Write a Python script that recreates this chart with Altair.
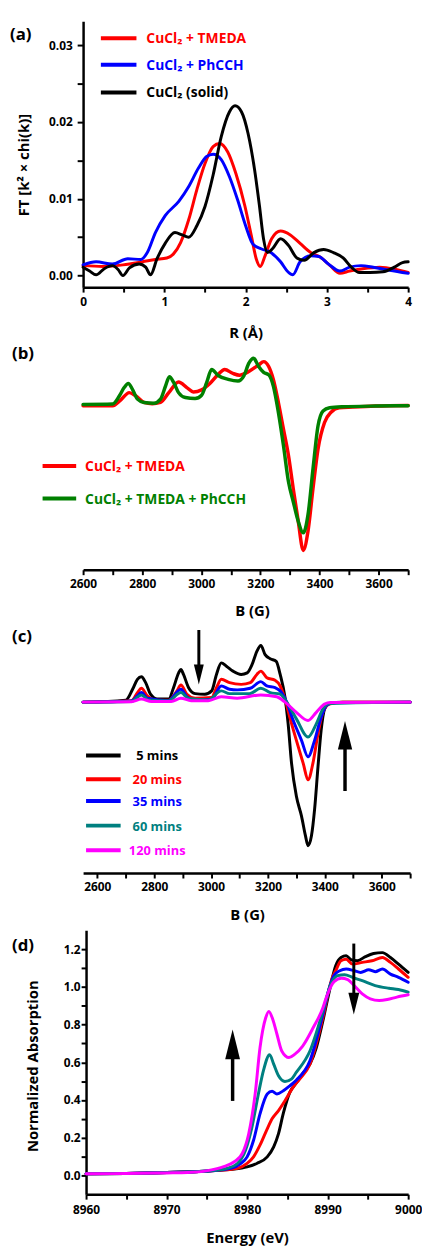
import altair as alt
import pandas as pd

FONT = "Open Sans"
RED = "#ff0000"
BLUE = "#0000ff"
BLACK = "#000000"
GREEN = "#008000"
TEAL = "#008080"
MAGENTA = "#ff00ff"

# ---------------- (a) FT of EXAFS ----------------
a_red_r = [0, 0.24, 0.49, 0.73, 0.89, 1.03, 1.11, 1.2, 1.3, 1.4, 1.5, 1.6, 1.68, 1.78, 1.88, 1.99,
           2.07, 2.13, 2.18, 2.24, 2.32, 2.43, 2.55, 2.67, 2.8, 2.92, 3.04, 3.16, 3.28, 3.44, 3.65, 3.85, 4.0]
a_red_v = [0.0013, 0.0012, 0.0014, 0.0018, 0.0021, 0.0023, 0.0028, 0.0043, 0.0073, 0.0112, 0.0146,
           0.0168, 0.0172, 0.0161, 0.0133, 0.0091, 0.0052, 0.0022, 0.0012, 0.0026, 0.0048, 0.0058,
           0.0053, 0.0042, 0.0030, 0.0024, 0.0013, 0.0003, 0.0006, 0.0009, 0.0011, 0.0008, 0.0004]
a_blue_r = [0, 0.16, 0.36, 0.55, 0.71, 0.79, 0.89, 1.01, 1.18, 1.3, 1.42, 1.52, 1.6, 1.7, 1.8, 1.9,
            2.0, 2.09, 2.19, 2.31, 2.43, 2.52, 2.58, 2.67, 2.8, 2.9, 3.02, 3.16, 3.28, 3.42, 3.57, 3.77, 4.0]
a_blue_v = [0.0014, 0.0018, 0.0015, 0.0022, 0.0021, 0.0030, 0.0056, 0.0078, 0.0097, 0.0116, 0.0140,
            0.0155, 0.0158, 0.0151, 0.0129, 0.0099, 0.0065, 0.0041, 0.0035, 0.0030, 0.0018, 0.0005,
            0.0001, 0.0018, 0.0026, 0.0025, 0.0015, 0.0006, 0.0011, 0.0013, 0.0011, 0.0007, 0.0003]
a_black_r = [0, 0.08, 0.16, 0.26, 0.36, 0.43, 0.49, 0.57, 0.69, 0.77, 0.83, 0.91, 1.01, 1.13, 1.22,
             1.3, 1.4, 1.5, 1.6, 1.7, 1.8, 1.87, 1.95, 2.03, 2.11, 2.17, 2.22, 2.27, 2.33, 2.43, 2.53,
             2.63, 2.72, 2.84, 2.96, 3.08, 3.2, 3.3, 3.4, 3.53, 3.69, 3.83, 3.93, 4.0]
a_black_v = [0.0011, 0.0006, 0.0001, 0.0009, 0.0013, 0.0008, 0.0000, 0.0010, 0.0015, 0.0011, 0.0001,
             0.0022, 0.0042, 0.0056, 0.0053, 0.0050, 0.0065, 0.0090, 0.0131, 0.0181, 0.0213, 0.0221,
             0.0213, 0.0185, 0.0138, 0.0091, 0.0048, 0.0030, 0.0035, 0.0048, 0.0039, 0.0023, 0.0020,
             0.0030, 0.0034, 0.0030, 0.0023, 0.0011, 0.0004, 0.0004, 0.0005, 0.0011, 0.0017, 0.0018]

# ---------------- (b) EPR ----------------
b_red_b = [2600, 2700, 2728, 2756, 2778, 2806, 2834, 2862, 2890, 2923, 2951, 2973, 3001, 3029, 3057,
           3079, 3107, 3130, 3157, 3194, 3211, 3228, 3244, 3261, 3278, 3295, 3311, 3328, 3345, 3361,
           3378, 3395, 3417, 3440, 3467, 3512, 3590, 3700]
b_red_v = [-0.007, -0.007, 0.034, 0.084, 0.062, 0.016, 0.007, 0.016, 0.084, 0.158, 0.119, 0.089, 0.103,
           0.148, 0.21, 0.244, 0.217, 0.205, 0.226, 0.276, 0.299, 0.265, 0.174, 0.014, -0.169, -0.352,
           -0.58, -0.808, -1.01, -0.877, -0.58, -0.306, -0.123, -0.05, -0.021, -0.016, -0.009, -0.005]
b_green_b = [2600, 2700, 2723, 2739, 2753, 2767, 2784, 2806, 2840, 2862, 2879, 2892, 2907, 2923, 2946,
             2979, 3001, 3018, 3035, 3057, 3091, 3124, 3144, 3161, 3177, 3194, 3211, 3228, 3244, 3261,
             3278, 3295, 3311, 3328, 3345, 3361, 3378, 3395, 3412, 3434, 3478, 3590, 3700]
b_green_v = [0.002, 0.005, 0.062, 0.119, 0.148, 0.107, 0.039, 0.016, 0.011, 0.039, 0.13, 0.194, 0.153,
             0.084, 0.05, 0.043, 0.066, 0.153, 0.244, 0.203, 0.176, 0.164, 0.2, 0.288, 0.322, 0.265,
             0.224, 0.208, 0.128, -0.055, -0.283, -0.534, -0.671, -0.808, -0.888, -0.763, -0.443,
             -0.146, -0.043, -0.021, -0.014, -0.009, -0.007]

# ---------------- (c) EPR time series ----------------
c_black_b = [2550, 2700, 2724, 2741, 2755, 2770, 2787, 2811, 2851, 2868, 2886, 2894, 2903, 2921, 2944,
             2978, 3002, 3019, 3036, 3054, 3077, 3106, 3127, 3144, 3161, 3175, 3190, 3208, 3229, 3243,
             3260, 3271, 3283, 3300, 3318, 3332, 3341, 3353, 3364, 3376, 3387, 3399, 3416, 3463, 3700]
c_black_v = [0, 0.014, 0.089, 0.158, 0.176, 0.135, 0.055, 0.021, 0.021, 0.1, 0.203, 0.226, 0.192, 0.1,
             0.059, 0.055, 0.078, 0.192, 0.272, 0.249, 0.215, 0.192, 0.203, 0.26, 0.352, 0.393, 0.329,
             0.301, 0.283, 0.192, 0.032, -0.151, -0.425, -0.653, -0.79, -0.927, -0.995, -0.927, -0.744,
             -0.447, -0.196, -0.048, -0.009, 0, 0]
c_red_b = [2550, 2720, 2741, 2755, 2776, 2805, 2851, 2880, 2894, 2915, 2944, 3002, 3019, 3036, 3065,
           3106, 3138, 3161, 3175, 3196, 3225, 3243, 3260, 3277, 3300, 3324, 3341, 3358, 3376, 3393,
           3416, 3463, 3700]
c_red_v = [0, 0.01, 0.066, 0.096, 0.043, 0.014, 0.014, 0.078, 0.119, 0.055, 0.027, 0.032, 0.1, 0.158,
           0.135, 0.123, 0.135, 0.192, 0.215, 0.169, 0.151, 0.112, 0.021, -0.105, -0.265, -0.425, -0.539,
           -0.425, -0.219, -0.071, -0.014, 0, 0]
c_blue_b = [2550, 2720, 2741, 2755, 2776, 2850, 2894, 2915, 2944, 3002, 3036, 3065, 3092, 3138, 3175,
            3196, 3225, 3248, 3266, 3289, 3318, 3341, 3364, 3387, 3405, 3428, 3700]
c_blue_v = [0, 0.008, 0.043, 0.066, 0.027, 0.01, 0.089, 0.037, 0.014, 0.021, 0.112, 0.089, 0.085, 0.096,
            0.142, 0.112, 0.1, 0.066, 0, -0.128, -0.265, -0.379, -0.265, -0.105, -0.025, -0.005, 0]
c_teal_b = [2550, 2720, 2755, 2780, 2850, 2894, 2920, 2990, 3036, 3065, 3135, 3175, 3208, 3243, 3266,
            3300, 3341, 3370, 3393, 3416, 3700]
c_teal_v = [0, 0.005, 0.05, 0.015, 0.008, 0.066, 0.025, 0.015, 0.078, 0.059, 0.059, 0.096, 0.066, 0.055,
            0, -0.116, -0.242, -0.151, -0.048, -0.009, 0]
c_mag_b = [2550, 2720, 2755, 2790, 2860, 2894, 2930, 2990, 3036, 3092, 3175, 3231, 3260, 3300, 3341,
           3370, 3399, 3420, 3700]
c_mag_v = [0, 0.002, 0.021, 0.005, 0.004, 0.027, 0.01, 0.01, 0.037, 0.027, 0.05, 0.037, 0, -0.071,
           -0.128, -0.071, -0.014, -0.003, 0]
c_arrow_b = [2957, 3471]
c_arrow_tail = [0.5, -0.616]
c_arrow_tip = [0.123, -0.13]

# ---------------- (d) XANES ----------------
d_black_e = [8960, 8965, 8970, 8974, 8976, 8978, 8980, 8981.2, 8982.5, 8983.3, 8983.9, 8984.5, 8985.3,
             8986.1, 8986.9, 8987.8, 8988.6, 8989.4, 8990.2, 8991.0, 8991.66, 8992.3, 8992.9, 8993.7,
             8994.7, 8995.7, 8996.8, 8997.8, 8998.8, 9000]
d_black_v = [0.008, 0.01, 0.015, 0.02, 0.025, 0.032, 0.045, 0.063, 0.098, 0.151, 0.221, 0.33, 0.44,
             0.49, 0.54, 0.59, 0.678, 0.818, 0.975, 1.112, 1.156, 1.165, 1.144, 1.139, 1.161, 1.177,
             1.182, 1.156, 1.121, 1.077]
d_red_e = [8960, 8965, 8970, 8974, 8976, 8977.5, 8978.8, 8980, 8980.8, 8981.6, 8982.5, 8983.1, 8983.9,
           8984.7, 8985.7, 8986.5, 8987.8, 8989.4, 8990.5, 8991.0, 8991.66, 8992.3, 8993.1, 8994.3,
           8995.5, 8996.8, 8997.8, 8998.8, 9000]
d_red_v = [0.008, 0.01, 0.015, 0.02, 0.025, 0.03, 0.037, 0.063, 0.098, 0.16, 0.247, 0.3, 0.344, 0.396,
           0.467, 0.51, 0.59, 0.835, 1.04, 1.086, 1.139, 1.147, 1.121, 1.13, 1.139, 1.156, 1.13, 1.095,
           1.051]
d_blue_e = [8960, 8965, 8970, 8974, 8976, 8977.96, 8979.2, 8980, 8980.8, 8981.6, 8982.5, 8983.1,
            8983.7, 8984.5, 8985.3, 8986.1, 8987.8, 8989.4, 8990.2, 8990.8, 8991.5, 8992.3, 8993.3,
            8994.1, 8995.1, 8995.9, 8996.8, 8997.8, 8998.8, 9000]
d_blue_v = [0.008, 0.01, 0.015, 0.02, 0.026, 0.037, 0.063, 0.098, 0.186, 0.326, 0.432, 0.446, 0.432,
            0.449, 0.475, 0.505, 0.608, 0.853, 0.993, 1.06, 1.086, 1.095, 1.086, 1.077, 1.091, 1.081,
            1.095, 1.068, 1.051, 1.025]
d_teal_e = [8960, 8965, 8970, 8974, 8976, 8977.5, 8978.8, 8979.8, 8980.6, 8981.4, 8982.05, 8982.8,
            8983.3, 8983.9, 8984.7, 8985.5, 8986.1, 8987.8, 8989.4, 8990.4, 8991.25, 8992.1, 8993.1,
            8994.3, 8995.9, 8997.6, 8998.8, 9000]
d_teal_v = [0.008, 0.01, 0.015, 0.02, 0.027, 0.037, 0.063, 0.133, 0.256, 0.432, 0.56, 0.64, 0.59,
            0.528, 0.498, 0.511, 0.546, 0.66, 0.87, 1.016, 1.06, 1.065, 1.051, 1.033, 1.007, 0.993,
            0.986, 0.972]
d_mag_e = [8960, 8965, 8970, 8972.6, 8975.1, 8977.1, 8978.4, 8979.4, 8980.2, 8981.0, 8981.6, 8982.3,
           8982.7, 8983.2, 8983.7, 8984.3, 8985.2, 8985.9, 8986.9, 8988.2, 8989.4, 8989.8, 8990.8,
           8991.7, 8992.5, 8993.3, 8994.3, 8995.3, 8996.4, 8997.4, 8998.6, 9000]
d_mag_v = [0.008, 0.01, 0.013, 0.015, 0.025, 0.046, 0.072, 0.116, 0.221, 0.432, 0.677, 0.835, 0.87,
           0.826, 0.75, 0.66, 0.625, 0.642, 0.686, 0.783, 0.888, 0.94, 1.028, 1.046, 1.039, 1.007,
           0.963, 0.937, 0.928, 0.933, 0.946, 0.958]
d_arrow_e = [8978.2, 8993.25]
d_arrow_tail = [0.395, 1.23]
d_arrow_tip = [0.774, 0.853]

# ---------------- helpers ----------------
def xy_df(xs, ys):
    return pd.DataFrame({"x": xs, "y": ys})


def one_row():
    return pd.DataFrame({"k": [0]})


def curve(xs, ys, color, xf, yf, width):
    return alt.Chart(xy_df(xs, ys)).mark_line(
        color=color, strokeWidth=width, interpolate="monotone", strokeJoin="round", strokeCap="round"
    ).encode(x=xf("x"), y=yf("y"))


def text_at(txt, x, y, color="black", size=14, align="left"):
    return alt.Chart(one_row()).mark_text(
        text=txt, font=FONT, fontWeight="bold", fontSize=size, color=color, align=align, baseline="middle"
    ).encode(x=alt.value(x), y=alt.value(y))


def swatch(x1, x2, y, color, width=4):
    return alt.Chart(one_row()).mark_rule(color=color, strokeWidth=width).encode(
        x=alt.value(x1), x2=alt.value(x2), y=alt.value(y))


def arrow(xv, tail, tip, head_px, units_per_px, xf, yf, width=3):
    up = tip > tail
    head_h = head_px
    shaft_end = tip - (head_h * 0.5 * units_per_px if up else -head_h * 0.5 * units_per_px)
    df = pd.DataFrame({"x": [xv], "y": [tail], "y2": [shaft_end], "tip": [tip]})
    shaft = alt.Chart(df).mark_rule(color="black", strokeWidth=width).encode(
        x=xf("x"), y=yf("y"), y2="y2:Q")
    path = "M0,0L0.5,2L-0.5,2Z" if up else "M0,0L0.5,-2L-0.5,-2Z"
    head = alt.Chart(df).mark_point(
        shape=path, filled=True, color="black", opacity=1, size=head_px * head_px, strokeWidth=0
    ).encode(x=xf("x"), y=yf("tip"))
    return [shaft, head]


# ---------------- panel (a) ----------------
def ax_x(f):
    return alt.X(f"{f}:Q", scale=alt.Scale(domain=[0, 4], nice=False, zero=False),
                 axis=alt.Axis(values=[i * 0.5 for i in range(9)],
                               labelExpr="datum.value % 1 == 0 ? format(datum.value, 'd') : ''",
                               title="R (Å)", titleY=46, titleBaseline="middle", labelPadding=5))


def ax_y(f):
    return alt.Y(f"{f}:Q", scale=alt.Scale(domain=[-0.0015, 0.0331], nice=False, zero=False),
                 axis=alt.Axis(values=[0, 0.005, 0.01, 0.015, 0.02, 0.025, 0.03],
                               labelExpr="abs(datum.value*100 - round(datum.value*100)) < 0.001 ? format(datum.value, '.2f') : ''",
                               title="FT [k² × chi(k)]", titleX=-55, titleY=145, titleBaseline="alphabetic",
                               tickSize=6, labelPadding=5))


pa = alt.layer(
    curve(a_red_r, a_red_v, RED, ax_x, ax_y, 3),
    curve(a_blue_r, a_blue_v, BLUE, ax_x, ax_y, 3),
    curve(a_black_r, a_black_v, BLACK, ax_x, ax_y, 3),
    swatch(18, 54, 17, RED), text_at("CuCl₂ + TMEDA", 64, 18, RED, 14),
    swatch(18, 54, 44, BLUE), text_at("CuCl₂ + PhCCH", 64, 45, BLUE, 14),
    swatch(18, 54, 72, BLACK), text_at("CuCl₂ (solid)", 64, 73, BLACK, 14),
    text_at("(a)", -74, 14, BLACK, 17),
).properties(width=329, height=269)

# ---------------- panel (b) ----------------
def bx(f):
    return alt.X(f"{f}:Q", scale=alt.Scale(domain=[2600, 3700], nice=False, zero=False),
                 axis=alt.Axis(values=list(range(2600, 3701, 100)),
                               labelExpr="datum.value % 200 == 0 && datum.value < 3700 ? format(datum.value, 'd') : ''",
                               title="B (G)", titleX=171, titleY=41, titleBaseline="middle", labelPadding=4))


def by(f):
    return alt.Y(f"{f}:Q", scale=alt.Scale(domain=[-1.144, 0.418], nice=False, zero=False), axis=None)


pb = alt.layer(
    curve(b_red_b, b_red_v, RED, bx, by, 3.5),
    curve(b_green_b, b_green_v, GREEN, bx, by, 3.5),
    swatch(-41, -7, 123, RED), text_at("CuCl₂ + TMEDA", 2, 124, RED, 14),
    swatch(-41, -7, 156, GREEN), text_at("CuCl₂ + TMEDA + PhCCH", 2, 157, GREEN, 14),
    text_at("(b)", -72, 10, BLACK, 17),
).properties(width=329, height=228)

# ---------------- panel (c) ----------------
def cx(f):
    return alt.X(f"{f}:Q", scale=alt.Scale(domain=[2550, 3700], nice=False, zero=False),
                 axis=alt.Axis(values=list(range(2600, 3701, 100)),
                               labelExpr="datum.value % 200 == 0 && datum.value < 3700 ? format(datum.value, 'd') : ''",
                               title="B (G)", titleX=166, titleY=42, titleBaseline="middle", labelPadding=4))


def cy(f):
    return alt.Y(f"{f}:Q", scale=alt.Scale(domain=[-1.185, 0.5205], nice=False, zero=False), axis=None)


c_upp = 1 / 146.0
c_layers = [
    curve(c_black_b, c_black_v, BLACK, cx, cy, 3),
    curve(c_red_b, c_red_v, RED, cx, cy, 3),
    curve(c_blue_b, c_blue_v, BLUE, cx, cy, 3),
    curve(c_teal_b, c_teal_v, TEAL, cx, cy, 3),
    curve(c_mag_b, c_mag_v, MAGENTA, cx, cy, 3),
]
c_layers += arrow(c_arrow_b[0], c_arrow_tail[0], c_arrow_tip[0], 20, c_upp, cx, cy, 3)
c_layers += arrow(c_arrow_b[1], c_arrow_tail[1], c_arrow_tip[1], 29, c_upp, cx, cy, 3.5)
c_legend = [("5 mins", BLACK), ("20 mins", RED), ("35 mins", BLUE), ("60 mins", TEAL), ("120 mins", MAGENTA)]
c_rows = [130, 154, 176, 201, 226]
for (lab, col), ry in zip(c_legend, c_rows):
    c_layers.append(swatch(3, 38, ry, col))
    c_layers.append(text_at(lab, 75, ry + 1, col, 13, "center"))
c_layers.append(text_at("(c)", -72, 10, BLACK, 17))
pc = alt.layer(*c_layers).properties(width=331, height=249)

# ---------------- panel (d) ----------------
def dx(f):
    return alt.X(f"{f}:Q", scale=alt.Scale(domain=[8960, 9000], nice=False, zero=False, range=[3, 329]),
                 axis=alt.Axis(values=list(range(8960, 9001, 5)),
                               labelExpr="datum.value % 10 == 0 ? format(datum.value, 'd') : ''",
                               title="Energy (eV)", titleX=166, titleY=44, titleBaseline="middle", labelPadding=6))


def dy(f):
    return alt.Y(f"{f}:Q", scale=alt.Scale(domain=[-0.1, 1.3], nice=False, zero=False),
                 axis=alt.Axis(values=[round(i * 0.1, 1) for i in range(13)],
                               labelExpr="abs(datum.value*5 - round(datum.value*5)) < 0.001 ? format(datum.value, '.1f') : ''",
                               title="Normalized Absorption", titleX=-49, titleY=137, titleBaseline="alphabetic",
                               offset=-3, labelPadding=1))


d_upp = 1.4 / 267.0
d_layers = [
    curve(d_black_e, d_black_v, BLACK, dx, dy, 3),
    curve(d_red_e, d_red_v, RED, dx, dy, 3),
    curve(d_blue_e, d_blue_v, BLUE, dx, dy, 3),
    curve(d_teal_e, d_teal_v, TEAL, dx, dy, 3),
    curve(d_mag_e, d_mag_v, MAGENTA, dx, dy, 3),
]
d_layers += arrow(d_arrow_e[0], d_arrow_tail[0], d_arrow_tip[0], 30, d_upp, dx, dy, 3.5)
d_layers += arrow(d_arrow_e[1], d_arrow_tail[1], d_arrow_tip[1], 22, d_upp, dx, dy, 3)
d_layers.append(text_at("(d)", -72, 16, BLACK, 17))
pd_ = alt.layer(*d_layers).properties(width=329, height=267)

chart = alt.vconcat(pa, pb, pc, pd_, spacing=58, bounds="flush").properties(
    padding={"left": 2, "top": 6, "right": 0, "bottom": 0}
).configure_view(stroke=None).configure_axis(
    grid=False, domainColor="black", domainWidth=2.5, tickColor="black", tickWidth=2, tickSize=5,
    labelFont=FONT, labelFontWeight="bold", labelFontSize=12, labelColor="black",
    titleFont=FONT, titleFontWeight="bold", titleFontSize=15, titleColor="black",
    labelFlush=False, labelOverlap=False,
)

chart.save("out.html", embed_options={"renderer": "svg", "actions": False})
